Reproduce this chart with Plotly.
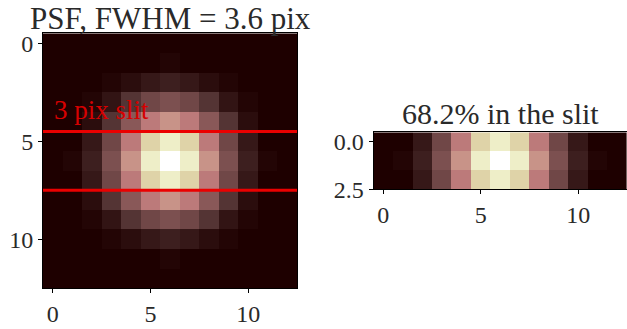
import plotly.graph_objects as go

# PSF image (13 x 13), normalized to peak = 1
psf_rows = [
    [0, 0, 0, 0, 0, 0, 0, 0, 0, 0, 0, 0, 0],
    [0, 0, 0, 0, 0, 0, 0.005, 0, 0, 0, 0, 0, 0],
    [0, 0, 0, 0.005, 0.014, 0.026, 0.033, 0.026, 0.014, 0.005, 0, 0, 0],
    [0, 0, 0.005, 0.021, 0.062, 0.117, 0.146, 0.117, 0.062, 0.021, 0.005, 0, 0],
    [0, 0, 0.014, 0.062, 0.180, 0.343, 0.424, 0.343, 0.180, 0.062, 0.014, 0, 0],
    [0, 0, 0.026, 0.117, 0.343, 0.652, 0.807, 0.652, 0.343, 0.117, 0.026, 0, 0],
    [0, 0.005, 0.033, 0.146, 0.424, 0.807, 1.000, 0.807, 0.424, 0.146, 0.033, 0.005, 0],
    [0, 0, 0.026, 0.117, 0.343, 0.652, 0.807, 0.652, 0.343, 0.117, 0.026, 0, 0],
    [0, 0, 0.014, 0.062, 0.180, 0.343, 0.424, 0.343, 0.180, 0.062, 0.014, 0, 0],
    [0, 0, 0.005, 0.021, 0.062, 0.117, 0.146, 0.117, 0.062, 0.021, 0.005, 0, 0],
    [0, 0, 0, 0.005, 0.014, 0.026, 0.033, 0.026, 0.014, 0.005, 0, 0, 0],
    [0, 0, 0, 0, 0, 0, 0.005, 0, 0, 0, 0, 0, 0],
    [0, 0, 0, 0, 0, 0, 0, 0, 0, 0, 0, 0, 0],
]
# slit cut: rows 5..7 of the PSF
slit_rows = [
    [0, 0, 0.026, 0.117, 0.343, 0.652, 0.807, 0.652, 0.343, 0.117, 0.026, 0, 0],
    [0, 0.005, 0.033, 0.146, 0.424, 0.807, 1.000, 0.807, 0.424, 0.146, 0.033, 0.005, 0],
    [0, 0, 0.026, 0.117, 0.343, 0.652, 0.807, 0.652, 0.343, 0.117, 0.026, 0, 0],
]
slit_edges = [4.5, 7.5]
left_title = "PSF, FWHM = 3.6 pix"
right_title = "68.2% in the slit"
slit_label = "3 pix slit"
xticks = [0, 5, 10]
left_yticks = [0, 5, 10]
right_yticks = [0, 2.5]
right_yticklabels = ["0.0", "2.5"]

# matplotlib "pink" colormap approximation
pink = [
    [0.0, "rgb(30,0,0)"], [0.05, "rgb(77,47,47)"], [0.1, "rgb(105,66,66)"],
    [0.15, "rgb(126,81,81)"], [0.2, "rgb(145,93,93)"], [0.25, "rgb(161,104,104)"],
    [0.3, "rgb(176,114,114)"], [0.365, "rgb(194,126,126)"], [0.45, "rgb(203,156,140)"],
    [0.55, "rgb(213,185,154)"], [0.65, "rgb(223,211,168)"], [0.746, "rgb(232,232,180)"],
    [0.85, "rgb(242,242,214)"], [0.95, "rgb(251,251,242)"], [1.0, "rgb(255,255,255)"],
]

W, H = 627, 329
FONT = "Liberation Serif"
TXT = "#2a2a2a"
fig = go.Figure()
fig.add_trace(go.Heatmap(z=psf_rows, colorscale=pink, zmin=0, zmax=1, showscale=False,
                         xaxis="x", yaxis="y"))
fig.add_trace(go.Heatmap(z=slit_rows, colorscale=pink, zmin=0, zmax=1, showscale=False,
                         xaxis="x2", yaxis="y2"))

axis_common = dict(ticks="outside", ticklen=4, tickwidth=1, tickcolor="black",
                   showline=True, mirror=True, linecolor="black", linewidth=1,
                   showgrid=False, zeroline=False, automargin=False,
                   tickfont=dict(family=FONT, size=24, color=TXT))

L = (43 / W, 297 / W)
LY = (1 - 288.3 / H, 1 - 33.3 / H)
R = (373.6 / W, 1.0)
RY = (1 - 189.3 / H, 1 - 132.3 / H)

fig.update_layout(
    width=W, height=H, margin=dict(l=0, r=0, t=0, b=0, pad=0),
    paper_bgcolor="white", plot_bgcolor="white", showlegend=False,
    xaxis=dict(domain=L, range=[-0.5, 12.5], tickvals=xticks, anchor="y", **axis_common),
    yaxis=dict(domain=LY, range=[12.5, -0.5], tickvals=left_yticks, anchor="x", **axis_common),
    xaxis2=dict(domain=R, range=[-0.5, 12.5], tickvals=xticks, anchor="y2", **axis_common),
    yaxis2=dict(domain=RY, range=[2.5, -0.5], tickvals=right_yticks, ticktext=right_yticklabels,
                anchor="x2", **axis_common),
)

for yv in slit_edges:
    fig.add_shape(type="line", xref="x domain", yref="y", x0=0, x1=1, y0=yv, y1=yv,
                  line=dict(color="rgb(235,0,0)", width=3), layer="above")

fig.add_annotation(x=-0.05, y=4.3, xref="x", yref="y", text=slit_label, showarrow=False,
                   xanchor="left", yanchor="bottom",
                   font=dict(family=FONT, size=27, color="rgb(215,0,0)"))

fig.add_annotation(x=(L[0] + L[1]) / 2, y=1.0, xref="paper", yref="paper",
                   text=left_title, showarrow=False, xanchor="center", yanchor="top",
                   borderpad=0,
                   font=dict(family=FONT, size=31, color=TXT))
fig.add_annotation(x=(R[0] + R[1]) / 2, y=1 - 96 / H, xref="paper", yref="paper",
                   text=right_title, showarrow=False, xanchor="center", yanchor="top",
                   borderpad=0,
                   font=dict(family=FONT, size=30, color=TXT))

fig.write_html("out.html", config={"displayModeBar": False},
               post_script="document.body.style.margin='0';document.body.style.padding='0';")
